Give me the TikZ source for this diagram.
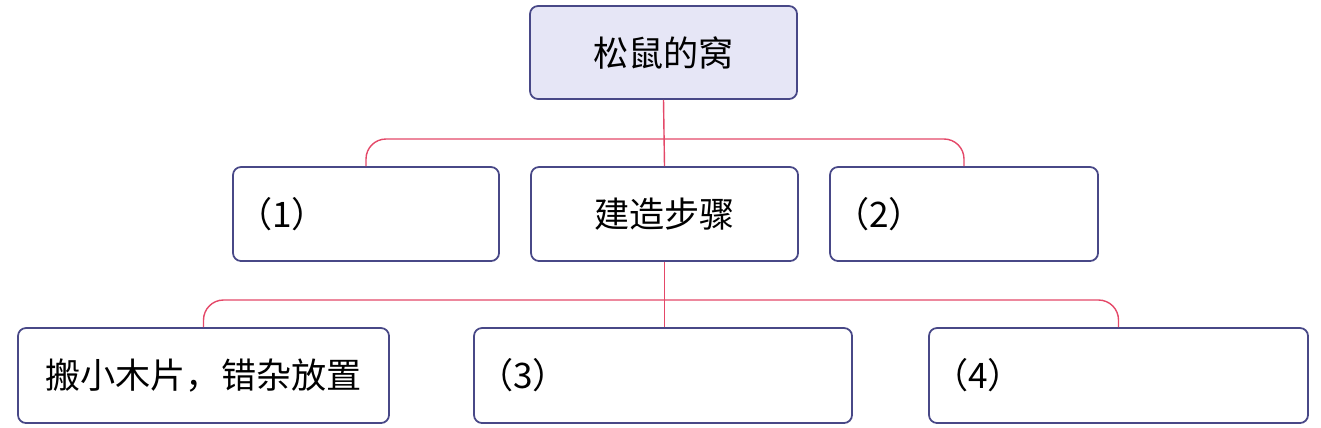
\documentclass[tikz,border=0pt]{standalone}
\usepackage{fontspec}
\setmainfont{Noto Sans CJK SC}
\usetikzlibrary{positioning}
\definecolor{boxline}{RGB}{72,72,135}
\definecolor{linkred}{RGB}{228,72,104}
\definecolor{topfill}{RGB}{230,230,246}
\begin{document}
\begin{tikzpicture}[font=\fontsize{20}{24}\selectfont,box/.style={draw=boxline,line width=1pt,rounded corners=0.16cm,minimum height=1.88cm,align=center},slot/.style={box,align=left,inner xsep=0.08cm},link/.style={draw=linkred,line width=0.8pt,rounded corners=0.4cm}]
\useasboundingbox (0,0) rectangle (26.42,-8.54);
\node[box,fill=topfill,minimum width=5.34cm,minimum height=1.86cm] (nest) at (13.27,-1.05) {松鼠的窝};
\node[slot,text width=5.16cm] (q1) at (7.32,-4.28) {（1）};
\node[box,minimum width=5.34cm] (steps) at (13.29,-4.28) {建造步骤};
\node[slot,text width=5.2cm] (q2) at (19.28,-4.28) {（2）};
\node[box,minimum width=7.42cm,minimum height=1.9cm] (carry) at (4.07,-7.51) {搬小木片，错杂放置};
\node[slot,text width=7.4cm,minimum height=1.9cm] (q3) at (13.26,-7.51) {（3）};
\node[slot,text width=7.42cm,minimum height=1.9cm] (q4) at (22.37,-7.51) {（4）};
\coordinate (bar1) at (13.29,-2.78);
\coordinate (bar2) at (13.29,-6.0);
\draw[link] (q1.north) |- (bar1) -| (q2.north);
\draw[link] (nest.south) -- (steps.north);
\draw[link] (carry.north) |- (bar2) -| (q4.north);
\draw[link] (steps.south) -- (steps.south |- q3.north);
\end{tikzpicture}
\end{document}
